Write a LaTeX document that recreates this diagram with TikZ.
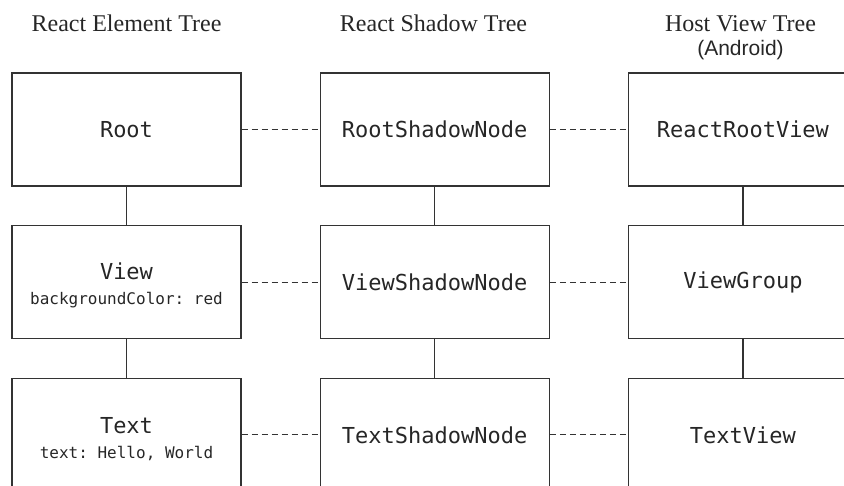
\documentclass[tikz,border=0pt]{standalone}
\usepackage{fontspec}
\setmainfont{Liberation Serif}
\setsansfont{Liberation Sans}
\setmonofont{DejaVu Sans Mono}
\usetikzlibrary{positioning}

\begin{document}
\begin{tikzpicture}[x=1pt,y=1pt,node distance=38.5pt and 78pt,
  box/.style={draw=black!80,line width=1.2pt,minimum width=229pt,minimum height=113pt,inner sep=0pt,align=center,text=black!85,font=\ttfamily\fontsize{22}{24}\selectfont},
  title/.style={anchor=base,text=black!85,font=\fontsize{24}{28}\selectfont},
  tree/.style={draw=black!80,line width=1.2pt},
  link/.style={draw=black!80,line width=1.2pt,dash pattern=on 6pt off 4pt}]
\useasboundingbox (0,0) rectangle (844,-486);
\clip (0,0) rectangle (844,-486);
% column titles
\node[title] (elemtitle) at (126.5,-31.5) {React Element Tree};
\node[title] (shadowtitle) at (433.5,-31.5) {React Shadow Tree};
\node[title] (hosttitle) at (740.5,-31.5) {Host View Tree};
\node[anchor=base,text=black!85,font=\sffamily\fontsize{21}{24}\selectfont] (android) at (740.5,-56) {(Android)};
% boxes
\node[box] (root) at (126.5,-129.5) {Root};
\node[box,right=of root] (rootshadow) {RootShadowNode};
\node[box,right=of rootshadow] (rootview) {ReactRootView};
\node[box,below=of root] (view) {\rule{0pt}{24pt}View\\[1pt]{\ttfamily\fontsize{16}{20}\selectfont backgroundColor: red}};
\node[box,right=of view] (viewshadow) {ViewShadowNode};
\node[box,right=of viewshadow] (viewgroup) {ViewGroup};
\node[box,below=of view] (text) {\rule{0pt}{24pt}Text\\[1pt]{\ttfamily\fontsize{16}{20}\selectfont text: Hello, World}};
\node[box,right=of text] (textshadow) {TextShadowNode};
\node[box,right=of textshadow] (textview) {TextView};
% tree edges
\draw[tree] (root) -- (view); \draw[tree] (view) -- (text);
\draw[tree] (rootshadow) -- (viewshadow); \draw[tree] (viewshadow) -- (textshadow);
\draw[tree] (rootview) -- (viewgroup); \draw[tree] (viewgroup) -- (textview);
% correspondences
\draw[link] (root) -- (rootshadow); \draw[link] (rootshadow) -- (rootview);
\draw[link] (view) -- (viewshadow); \draw[link] (viewshadow) -- (viewgroup);
\draw[link] (text) -- (textshadow); \draw[link] (textshadow) -- (textview);
\end{tikzpicture}
\end{document}
